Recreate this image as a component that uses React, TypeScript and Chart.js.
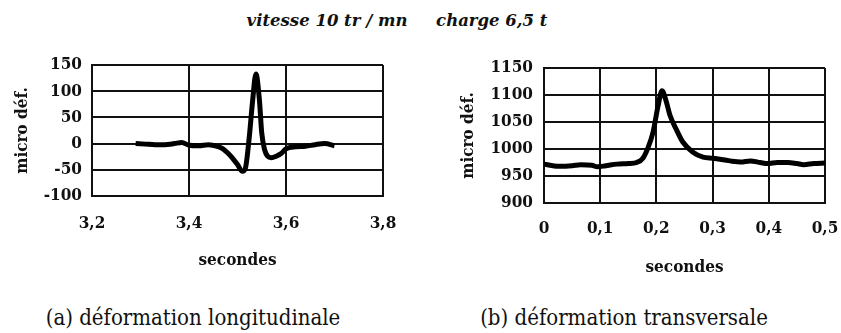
import React, { useEffect, useRef } from "react";
import { Chart, registerables } from "chart.js";

Chart.register(...registerables);

// (a) longitudinal strain signal
const longTimes = [
  3.29, 3.31, 3.33, 3.35, 3.37, 3.385, 3.4, 3.42, 3.44, 3.46, 3.47, 3.48,
  3.49, 3.5, 3.51, 3.516, 3.524, 3.531, 3.538, 3.545, 3.55, 3.556, 3.562,
  3.57, 3.58, 3.59, 3.6, 3.62, 3.64, 3.66, 3.68, 3.7,
];
const longStrain = [
  0, -1, -2, -2, 0, 2, -3, -4, -2, -6, -10, -18, -28, -40, -53, -48, 10, 80,
  133, 85, 20, -12, -24, -27, -24, -19, -10, -6, -5, -2, 0, -4,
];

// (b) transverse strain signal
const transTimes = [
  0, 0.025, 0.05, 0.065, 0.085, 0.095, 0.11, 0.13, 0.15, 0.165, 0.176, 0.185,
  0.194, 0.203, 0.21, 0.217, 0.224, 0.236, 0.247, 0.265, 0.283, 0.301, 0.331,
  0.35, 0.367, 0.385, 0.398, 0.415, 0.434, 0.45, 0.462, 0.48, 0.5,
];
const transStrain = [
  972, 968, 969, 971, 970, 967, 969, 972, 973, 975, 983, 1002, 1031, 1080,
  1108, 1090, 1063, 1035, 1013, 994, 985, 983, 978, 976, 978, 975, 973, 975,
  975, 973, 971, 973, 974,
];

const longXTicks = [3.2, 3.4, 3.6, 3.8];
const longYTicks = [-100, -50, 0, 50, 100, 150];
const transXTicks = [0, 0.1, 0.2, 0.3, 0.4, 0.5];
const transYTicks = [900, 950, 1000, 1050, 1100, 1150];

const FONT = "'DejaVu Serif Condensed', 'DejaVu Serif', serif";

const comma = (v: number) => {
  const s = Number.isInteger(v) ? String(v) : v.toFixed(1);
  return s.replace(".", ",");
};

type PanelProps = {
  times: number[];
  values: number[];
  xTicks: number[];
  yTicks: number[];
  width: number;
  height: number;
  padTop: number;
  padRight: number;
  yAxisWidth: number;
  xAxisHeight: number;
  yTitlePad: number;
  xTitlePad: number;
  xTickPad: number;
  yTickPad: number;
};

function StrainPanel(p: PanelProps) {
  const ref = useRef<HTMLCanvasElement>(null);

  useEffect(() => {
    if (!ref.current) return;
    const points = p.times.map((t, i) => ({ x: t, y: p.values[i] }));
    const grid = {
      color: "#111",
      lineWidth: 2,
      drawTicks: false,
    };
    const chart = new Chart(ref.current, {
      type: "line",
      data: {
        datasets: [
          {
            data: points,
            borderColor: "#000",
            borderWidth: 5,
            pointRadius: 0,
            cubicInterpolationMode: "monotone",
            fill: false,
          },
        ],
      },
      options: {
        animation: false,
        responsive: false,
        layout: { padding: { top: p.padTop, right: p.padRight, left: 0, bottom: 0 } },
        plugins: { legend: { display: false }, tooltip: { enabled: false } },
        scales: {
          x: {
            type: "linear",
            min: p.xTicks[0],
            max: p.xTicks[p.xTicks.length - 1],
            afterBuildTicks: (s: any) => {
              s.ticks = p.xTicks.map((v) => ({ value: v }));
            },
            afterFit: (s: any) => {
              s.height = p.xAxisHeight;
              s.paddingLeft = 0;
              s.paddingRight = 0;
            },
            grid,
            border: { color: "#111", width: 2 },
            ticks: {
              color: "#111",
              padding: p.xTickPad,
              maxRotation: 0,
              font: { family: FONT, size: 17, weight: "bold" },
              callback: (v: any) => comma(Number(v)),
            },
            title: {
              display: true,
              text: "secondes",
              color: "#111",
              font: { family: FONT, size: 17, weight: "bold" },
              padding: { top: 0, bottom: p.xTitlePad },
            },
          },
          y: {
            type: "linear",
            min: p.yTicks[0],
            max: p.yTicks[p.yTicks.length - 1],
            afterBuildTicks: (s: any) => {
              s.ticks = p.yTicks.map((v) => ({ value: v }));
            },
            afterFit: (s: any) => {
              s.width = p.yAxisWidth;
              s.paddingTop = 0;
              s.paddingBottom = 0;
            },
            grid,
            border: { color: "#111", width: 2 },
            ticks: {
              color: "#111",
              padding: p.yTickPad,
              font: { family: FONT, size: 17, weight: "bold" },
              callback: (v: any) => String(v),
            },
            title: {
              display: true,
              text: "micro déf.",
              color: "#111",
              font: { family: FONT, size: 17, weight: "bold" },
              padding: { top: p.yTitlePad, bottom: 0 },
            },
          },
        },
      },
    });
    return () => chart.destroy();
  }, []);

  return <canvas ref={ref} width={p.width} height={p.height} style={{ display: "block" }} />;
}

const textBase: React.CSSProperties = {
  position: "absolute",
  whiteSpace: "nowrap",
  color: "#111",
  fontFamily: "'DejaVu Serif', serif",
  transform: "translate(-50%, -50%)",
  lineHeight: 1,
};

export default function App() {
  return (
    <div
      style={{
        position: "fixed",
        left: 0,
        top: 0,
        width: 841,
        height: 333,
        background: "#fff",
        overflow: "hidden",
      }}
    >
      <div
        style={{
          ...textBase,
          left: 397,
          top: 21,
          fontSize: 16.5,
          fontWeight: "bold",
          fontStyle: "italic",
        }}
      >
        vitesse 10 tr / mn&nbsp;&nbsp;&nbsp;&nbsp;&nbsp;charge 6,5 t
      </div>

      <div style={{ position: "absolute", left: 0, top: 40 }}>
        <StrainPanel
          times={longTimes}
          values={longStrain}
          xTicks={longXTicks}
          yTicks={longYTicks}
          width={400}
          height={240}
          padTop={25}
          padRight={17}
          yAxisWidth={92}
          xAxisHeight={84}
          yTitlePad={12}
          xTitlePad={9}
          xTickPad={17}
          yTickPad={10}
        />
      </div>

      <div style={{ position: "absolute", left: 420, top: 40 }}>
        <StrainPanel
          times={transTimes}
          values={transStrain}
          xTicks={transXTicks}
          yTicks={transYTicks}
          width={421}
          height={240}
          padTop={28}
          padRight={16}
          yAxisWidth={124}
          xAxisHeight={77}
          yTitlePad={38}
          xTitlePad={2}
          xTickPad={15}
          yTickPad={11}
        />
      </div>

      <div style={{ ...textBase, left: 193, top: 318, fontSize: 22, fontStretch: "condensed" }}>
        (a) déformation longitudinale
      </div>
      <div style={{ ...textBase, left: 624, top: 318, fontSize: 22, fontStretch: "condensed" }}>
        (b) déformation transversale
      </div>
    </div>
  );
}
